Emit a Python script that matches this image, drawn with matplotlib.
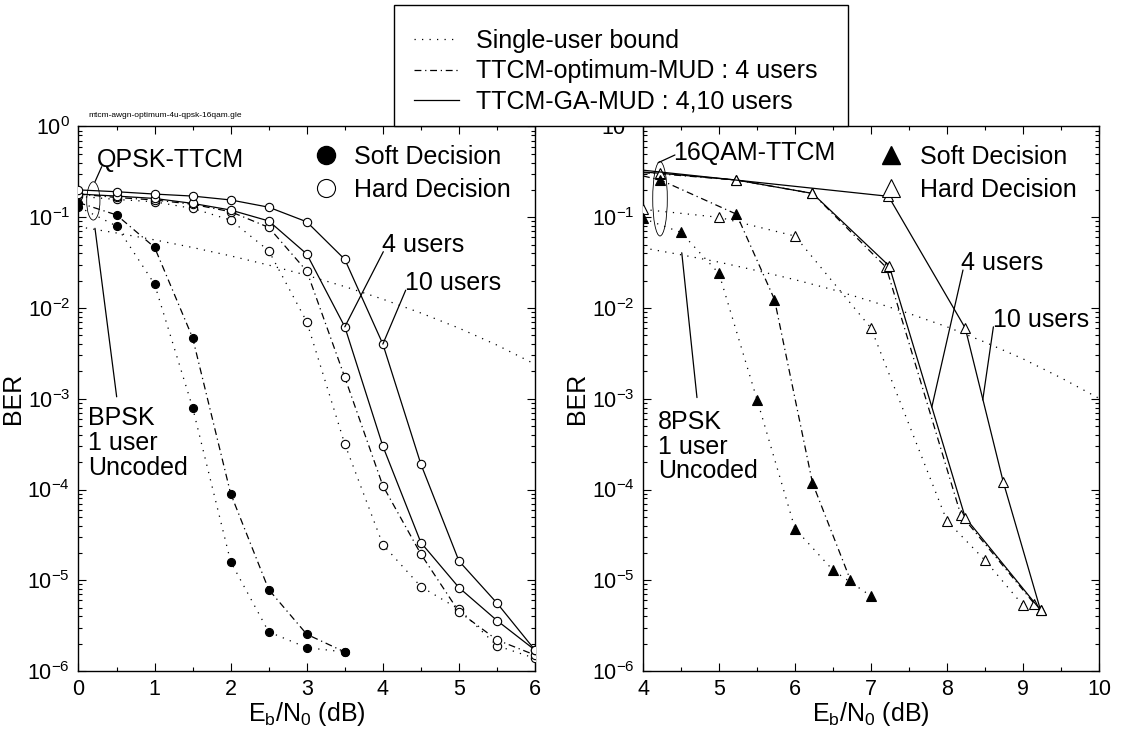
import matplotlib
matplotlib.use('Agg')
import matplotlib.pyplot as plt
from matplotlib.lines import Line2D
from matplotlib.patches import Ellipse, Rectangle
from matplotlib.ticker import LogLocator, MultipleLocator, NullFormatter, FixedLocator

plt.rcParams['font.family'] = ['Liberation Sans', 'DejaVu Sans']
plt.rcParams['mathtext.fontset'] = 'custom'
plt.rcParams['mathtext.rm'] = 'Liberation Sans'
plt.rcParams['mathtext.it'] = 'Liberation Sans:italic'
plt.rcParams['mathtext.bf'] = 'Liberation Sans:bold'
plt.rcParams['axes.unicode_minus'] = False

# ---------------- data: left panel (QPSK-TTCM) ----------------
x_q = [0, 0.5, 1, 1.5, 2, 2.5, 3, 3.5, 4, 4.5, 5, 5.5, 6]
q_hard_ga10 = [0.20, 0.191, 0.180, 0.171, 0.155, 0.129, 0.089, 0.0343, 0.0040, 1.9e-4, 1.63e-5, 5.6e-6, 1.7e-6]
q_hard_ga4 = [0.18, 0.171, 0.161, 0.142, 0.120, 0.091, 0.0393, 0.0062, 3.0e-4, 2.6e-5, 8.3e-6, 3.6e-6, 1.7e-6]
q_hard_opt = [0.18, 0.165, 0.155, 0.139, 0.115, 0.0773, 0.0255, 0.00172, 1.1e-4, 1.94e-5, 4.5e-6, 2.2e-6, 1.5e-6]
q_hard_su = [0.17, 0.157, 0.148, 0.125, 0.093, 0.0428, 0.00705, 3.16e-4, 2.47e-5, 8.5e-6, 4.8e-6, 1.9e-6, 1.38e-6]
x_q_soft = [0, 0.5, 1, 1.5, 2, 2.5, 3, 3.5]
q_soft_su = [0.13, 0.080, 0.0183, 8.0e-4, 1.6e-5, 2.7e-6, 1.81e-6, 1.62e-6]
q_soft_opt = [0.145, 0.106, 0.0466, 0.0047, 9.0e-5, 7.9e-6, 2.54e-6, 1.62e-6]
bpsk_unc = [0.0786, 0.0671, 0.0563, 0.0464, 0.0375, 0.0297, 0.0229, 0.0172, 0.0125, 0.0088, 0.0060, 0.0039, 0.0024]

# ---------------- data: right panel (16QAM-TTCM) ----------------
x_s_su = [4.0, 4.5, 5.0, 5.5, 6.0, 6.5, 7.0]
s_soft_su = [0.097, 0.068, 0.024, 9.8e-4, 3.7e-5, 1.29e-5, 6.7e-6]
x_s_opt = [4.0, 4.23, 5.23, 5.73, 6.23, 6.73]
s_soft_opt = [0.285, 0.257, 0.108, 0.0124, 1.18e-4, 1.0e-5]
x_h_su = [4.0, 5.0, 6.0, 7.0, 8.0, 8.5, 9.0]
h_su = [0.122, 0.0998, 0.062, 0.006, 4.5e-5, 1.66e-5, 5.3e-6]
x_h_opt = [4.0, 4.23, 5.23, 6.23, 7.2, 8.18, 9.15]
h_opt = [0.31, 0.30, 0.257, 0.183, 0.028, 5.3e-5, 5.5e-6]
x_h_ga4 = [4.0, 4.23, 5.23, 6.23, 7.24, 8.24, 9.23]
h_ga4 = [0.315, 0.305, 0.257, 0.183, 0.029, 4.9e-5, 4.7e-6]
x_h_ga10 = [4.0, 7.23, 8.24, 8.74, 9.23]
h_ga10 = [0.33, 0.17, 0.006, 1.21e-4, 4.7e-6]
x_8psk = [4, 4.5, 5, 5.5, 6, 6.5, 7, 7.5, 8, 8.5, 9, 9.5, 10]
psk8_unc = [0.046, 0.0386, 0.032, 0.0258, 0.0205, 0.0159, 0.0119, 0.0087, 0.0062, 0.0042, 0.00275, 0.0017, 0.00101]

y_ticks = [1e-6, 1e-5, 1e-4, 1e-3, 1e-2, 1e-1, 1]
legend_labels = ['Single-user bound', 'TTCM-optimum-MUD : 4 users', 'TTCM-GA-MUD : 4,10 users']
marker_labels = ['Soft Decision', 'Hard Decision']

# ---------------- styles ----------------
DOT = (0, (1.0, 5.0))
DASHDOT = (0, (5.5, 3, 1.0, 3))
LW = 0.9
FS = 18

fig = plt.figure(figsize=(11.21, 7.34), dpi=100)
axL = fig.add_axes([0.0700, 0.0858, 0.4073, 0.7419])
axR = fig.add_axes([0.5736, 0.0858, 0.4068, 0.7419])


def curve(ax, x, y, ls, marker, filled, ms, markevery=None):
    ax.plot(x, y, color='k', lw=LW, linestyle=ls, marker=marker, ms=ms,
            mfc='k' if filled else 'white', mec='k', mew=0.8,
            markevery=markevery, zorder=3)


# left panel curves
curve(axL, x_q, bpsk_unc, DOT, None, False, 0)
curve(axL, x_q, q_hard_su, DOT, 'o', False, 6)
curve(axL, x_q, q_hard_opt, DASHDOT, 'o', False, 6)
curve(axL, x_q, q_hard_ga4, '-', 'o', False, 6)
curve(axL, x_q, q_hard_ga10, '-', 'o', False, 6)
curve(axL, x_q_soft, q_soft_su, DOT, 'o', True, 5.8)
curve(axL, x_q_soft, q_soft_opt, DASHDOT, 'o', True, 5.8)

# right panel curves
curve(axR, x_8psk, psk8_unc, DOT, None, False, 0)
curve(axR, x_h_su, h_su, DOT, '^', False, 6.5)
curve(axR, x_h_opt, h_opt, DASHDOT, '^', False, 6.5, markevery=list(range(1, len(x_h_opt))))
curve(axR, x_h_ga4, h_ga4, '-', '^', False, 6.5, markevery=list(range(1, len(x_h_ga4))))
curve(axR, x_h_ga10, h_ga10, '-', '^', False, 6.5, markevery=list(range(1, len(x_h_ga10))))
curve(axR, x_s_su, s_soft_su, DOT, '^', True, 6.5)
curve(axR, x_s_opt, s_soft_opt, DASHDOT, '^', True, 6.5, markevery=list(range(1, len(x_s_opt))))

for ax, xl in ((axL, (0, 6)), (axR, (4, 10))):
    ax.set_yscale('log')
    ax.set_ylim(1e-6, 1)
    ax.set_xlim(*xl)
    ax.yaxis.set_major_locator(FixedLocator(y_ticks))
    minor = [m * t for t in y_ticks[:-1] for m in range(2, 10)]
    ax.yaxis.set_minor_locator(FixedLocator(minor))
    ax.yaxis.set_minor_formatter(NullFormatter())
    ax.set_xticks([v for v in range(int(xl[0]), int(xl[1]) + 1)])
    ax.set_xticks([v + 0.5 for v in range(int(xl[0]), int(xl[1]))], minor=True)
    ax.tick_params(which='both', direction='in', top=True, right=True, width=0.8)
    ax.tick_params(which='major', length=6, labelsize=15.5, pad=6)
    ax.tick_params(which='minor', length=3)
    for s in ax.spines.values():
        s.set_linewidth(1.0)
    ax.set_xlabel(r'E$_\mathrm{b}$/N$_0$ (dB)', fontsize=FS, labelpad=0)
    ax.set_ylabel('BER', fontsize=FS, labelpad=2)

# in-axes marker legends
for ax, mk, cx in ((axL, 'o', 0.7306), (axR, '^', 0.733)):
    hs = [Line2D([], [], ls='none', marker=mk, ms=13, mfc='k', mec='k'),
          Line2D([], [], ls='none', marker=mk, ms=13, mfc='white', mec='k', mew=0.8)]
    ax.legend(hs, marker_labels, loc='center', bbox_to_anchor=(cx, 0.9139),
              frameon=False, fontsize=FS, handlelength=1.0, handletextpad=0.65,
              labelspacing=0.36, borderpad=0, borderaxespad=0)

line = dict(arrowstyle='-', lw=LW, color='k', shrinkA=0, shrinkB=0)

# left annotations
axL.add_patch(Ellipse((0.0325, 0.8633), 0.029, 0.0703, transform=axL.transAxes,
                      fill=False, lw=0.6, ec='k'))
axL.text(0.243, 0.3576, 'QPSK-TTCM', fontsize=FS, ha='left', va='baseline')
axL.annotate('', xy=(0.217, 0.246), xytext=(0.305, 0.36), arrowprops=line)
axL.annotate('', xy=(0.217, 0.0755), xytext=(0.502, 0.00105), arrowprops=line)
axL.text(0.129, 8.3e-4, 'BPSK\n1 user\nUncoded', fontsize=FS, ha='left', va='top', linespacing=1.05)
axL.text(3.985, 0.0417, '4 users', fontsize=FS, ha='left', va='baseline')
axL.annotate('', xy=(x_q[7], q_hard_ga4[7]), xytext=(4.006, 0.0417), arrowprops=line)
axL.text(4.29, 0.01575, '10 users', fontsize=FS, ha='left', va='baseline')
axL.annotate('', xy=(x_q[8], q_hard_ga10[8]), xytext=(4.30, 0.0157), arrowprops=line)

# right annotations
axR.add_patch(Ellipse((0.0373, 0.8672), 0.032, 0.1365, transform=axR.transAxes,
                      fill=False, lw=0.6, ec='k'))
axR.text(4.40, 0.427, '16QAM-TTCM', fontsize=FS, ha='left', va='baseline')
axR.annotate('', xy=(4.20, 0.399), xytext=(4.42, 0.485), arrowprops=line)
axR.annotate('', xy=(4.51, 0.0406), xytext=(4.71, 0.00103), arrowprops=line)
axR.text(4.20, 7.6e-4, '8PSK\n1 user\nUncoded', fontsize=FS, ha='left', va='top', linespacing=1.05)
axR.text(8.19, 0.0262, '4 users', fontsize=FS, ha='left', va='baseline')
axR.annotate('', xy=(7.80, 8.1e-4), xytext=(8.21, 0.0262), arrowprops=line)
axR.text(8.60, 0.0062, '10 users', fontsize=FS, ha='left', va='baseline')
axR.annotate('', xy=(8.47, 9.7e-4), xytext=(8.61, 0.0062), arrowprops=line)

# top legend box
fig.add_artist(Rectangle((0.3515, 0.8283), 0.405, 0.165, transform=fig.transFigure,
                         facecolor='white', edgecolor='black', lw=1.0, zorder=5))
hs = [Line2D([], [], color='k', lw=LW, ls=DOT),
      Line2D([], [], color='k', lw=LW, ls=DASHDOT),
      Line2D([], [], color='k', lw=LW, ls='-')]
leg = fig.legend(hs, legend_labels, loc='center', bbox_to_anchor=(0.549, 0.9026),
                 frameon=False, fontsize=FS, handlelength=1.82, handletextpad=0.65,
                 labelspacing=0.26, borderpad=0)
leg.set_zorder(6)

fig.text(0.0788, 0.8433, 'mtcm-awgn-optimum-4u-qpsk-16qam.gle', fontsize=6, va='center')

fig.savefig('out.png', dpi=100)
